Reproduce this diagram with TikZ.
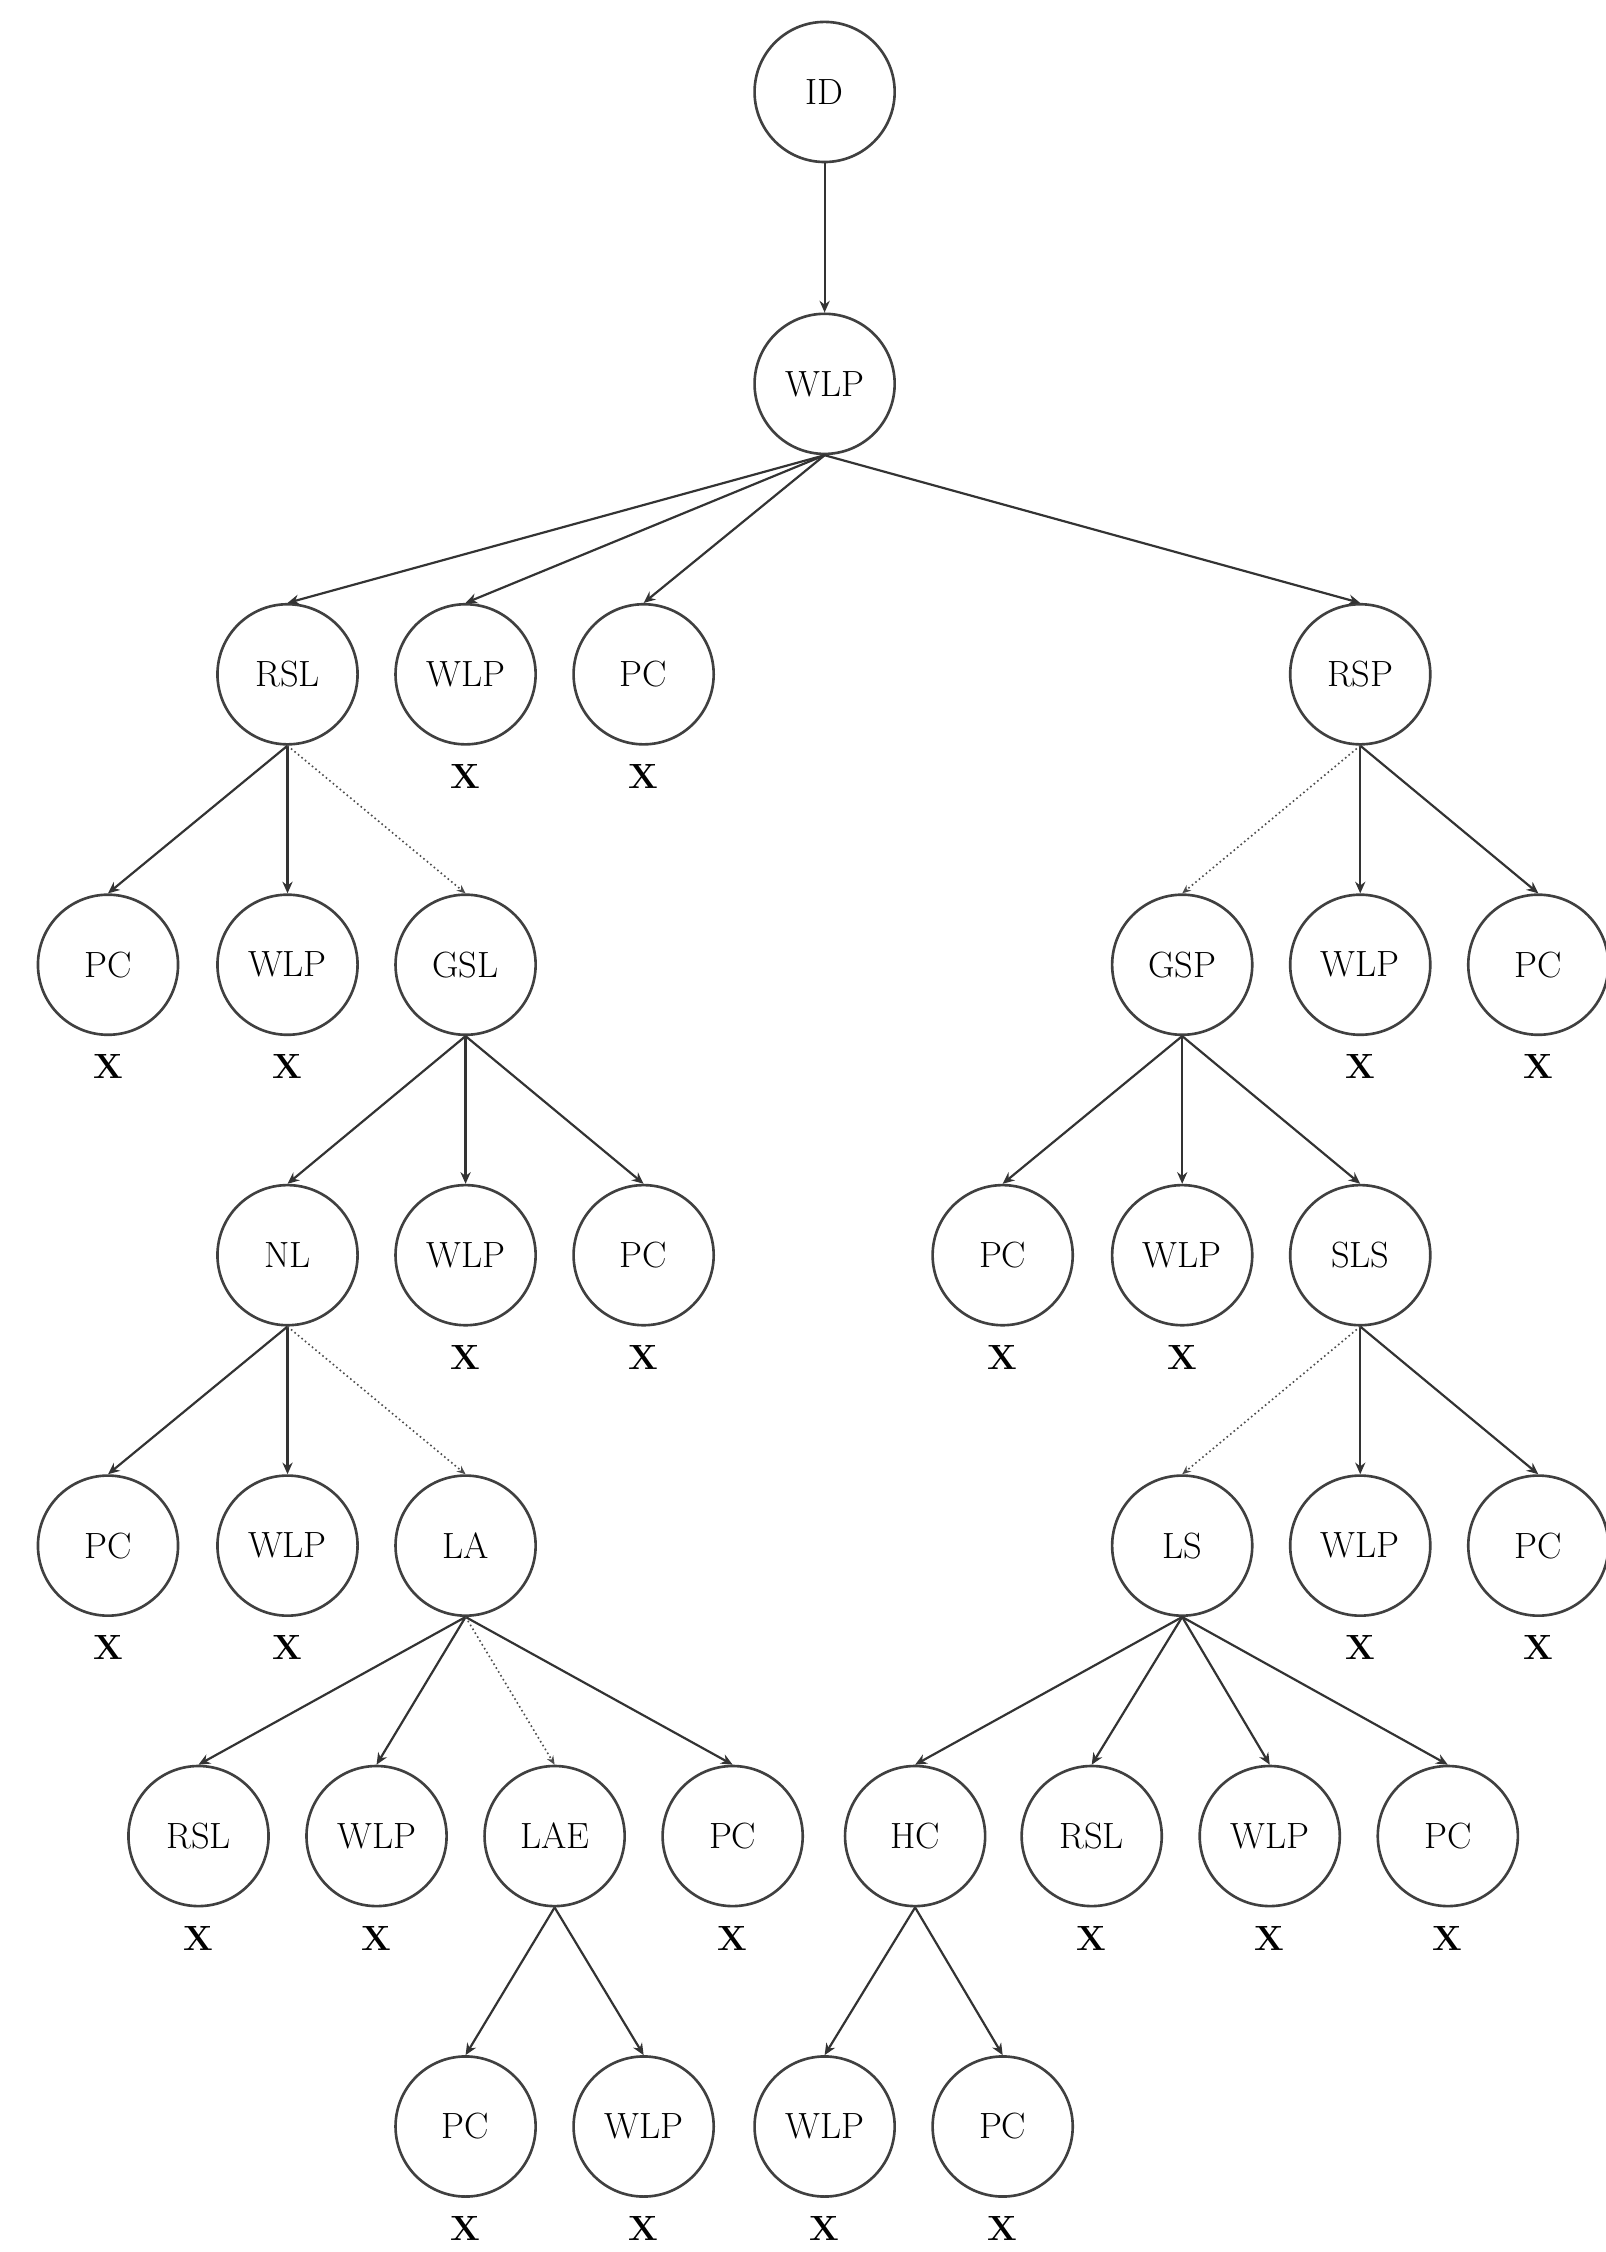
\documentclass[tikz,border=0pt]{standalone}
\usetikzlibrary{arrows.meta}
\begin{document}
\begin{tikzpicture}[x=1pt,y=-1pt,
  nd/.style={circle,draw=black!75,line width=1.8pt,minimum size=96pt,inner sep=0pt,font=\fontsize{25}{28}\selectfont},
  xl/.style={font=\fontsize{24}{26}\selectfont\bfseries},
  ed/.style={draw=black!80,line width=1.5pt,-{Stealth[length=8pt,width=7pt]}},
  dt/.style={draw=black!70,line width=1.1pt,dotted,-{Stealth[length=6pt,width=5pt]}}]
\useasboundingbox (0,0) rectangle (1100,1543);
\def\N#1#2#3#4{\node[nd] (#1) at (#2,#3) {#4};}
\def\NX#1#2#3#4{\node[nd] (#1) at (#2,#3) {#4}; \node[xl] (#1x) at (#2,#3+70) {X};}
\N{id}{565}{63}{ID}
\N{w}{565}{263}{WLP}
\N{rsl}{197}{462}{RSL} \NX{w1}{319}{462}{WLP} \NX{p1}{441}{462}{PC} \N{rsp}{932}{462}{RSP}
\NX{p2}{74}{661}{PC} \NX{w2}{197}{661}{WLP} \N{gsl}{319}{661}{GSL}
\N{gsp}{810}{661}{GSP} \NX{w3}{932}{661}{WLP} \NX{p3}{1054}{661}{PC}
\N{nl}{197}{860}{NL} \NX{w4}{319}{860}{WLP} \NX{p4}{441}{860}{PC}
\NX{p5}{687}{860}{PC} \NX{w5}{810}{860}{WLP} \N{sls}{932}{860}{SLS}
\NX{p6}{74}{1059}{PC} \NX{w6}{197}{1059}{WLP} \N{la}{319}{1059}{LA}
\N{ls}{810}{1059}{LS} \NX{w7}{932}{1059}{WLP} \NX{p7}{1054}{1059}{PC}
\NX{r1}{136}{1258}{RSL} \NX{w8}{258}{1258}{WLP} \N{lae}{380}{1258}{LAE} \NX{p8}{502}{1258}{PC}
\N{hc}{627}{1258}{HC} \NX{r2}{748}{1258}{RSL} \NX{w9}{870}{1258}{WLP} \NX{p9}{992}{1258}{PC}
\NX{p10}{319}{1457}{PC} \NX{w10}{441}{1457}{WLP} \NX{w11}{565}{1457}{WLP} \NX{p11}{687}{1457}{PC}
\foreach \a/\b in {id/w,w/rsl,w/w1,w/p1,w/rsp,rsl/p2,rsl/w2,rsp/w3,rsp/p3,gsl/nl,gsl/w4,gsl/p4,
  gsp/p5,gsp/w5,gsp/sls,nl/p6,nl/w6,sls/w7,sls/p7,la/r1,la/w8,la/p8,ls/hc,ls/r2,ls/w9,ls/p9,
  lae/p10,lae/w10,hc/w11,hc/p11}
  \draw[ed] (\a.south) -- (\b.north);
\foreach \a/\b in {rsl/gsl,rsp/gsp,nl/la,sls/ls,la/lae}
  \draw[dt] (\a.south) -- (\b.north);
\end{tikzpicture}
\end{document}
